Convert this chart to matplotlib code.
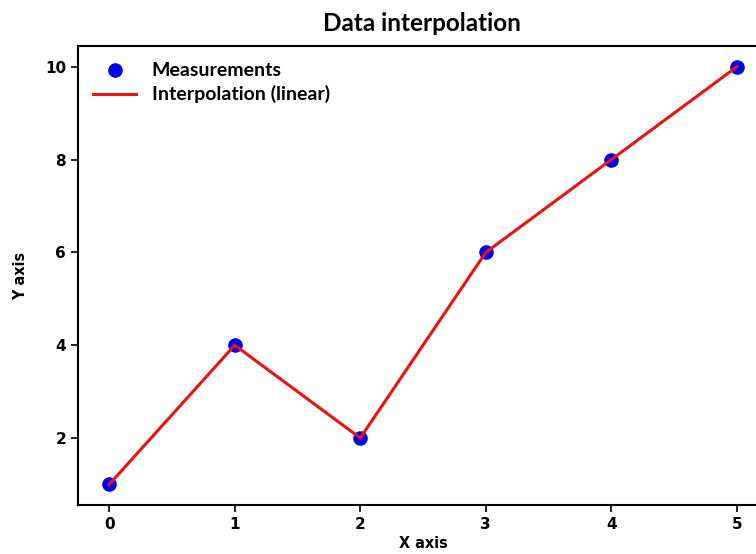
import numpy as np
import matplotlib.pyplot as plt

x_vals = [0, 1, 2, 3, 4, 5]
y_vals = [1, 4, 2, 6, 8, 10]
x_ticks = [0, 1, 2, 3, 4, 5]
y_ticks = [2, 4, 6, 8, 10]

fig = plt.figure(figsize=(7.56, 5.54), dpi=100)
ax = fig.add_axes([0.103, 0.088, 0.913, 0.829])

ax.scatter(x_vals, y_vals, s=90, color='#0000ee', zorder=3, label='Measurements')
ax.plot(x_vals, y_vals, color='#ee1111', lw=2.2, zorder=4, label='Interpolation (linear)')

ax.set_xticks(x_ticks)
ax.set_yticks(y_ticks)
for lab in ax.get_xticklabels() + ax.get_yticklabels():
    lab.set_fontweight('bold')
    lab.set_fontsize(11)
ax.tick_params(width=1.2, length=5)
for sp in ax.spines.values():
    sp.set_linewidth(1.5)

ax.set_xlabel('X axis', fontsize=11.5, fontweight='bold', fontstretch='condensed', labelpad=3)
ax.set_ylabel('Y axis', fontsize=11.5, fontweight='bold', fontstretch='condensed', labelpad=12)
fig.text(0.558, 0.958, 'Data interpolation', ha='center', va='center',
         fontsize=17.5, fontweight='bold', family='Lato')

leg = ax.legend(loc='upper left', frameon=False, prop={'family': 'Lato', 'weight': 'bold', 'size': 14},
                handlelength=2.2, handletextpad=0.8, borderaxespad=0.4, labelspacing=0.35)

fig.savefig('out.png', dpi=100)
